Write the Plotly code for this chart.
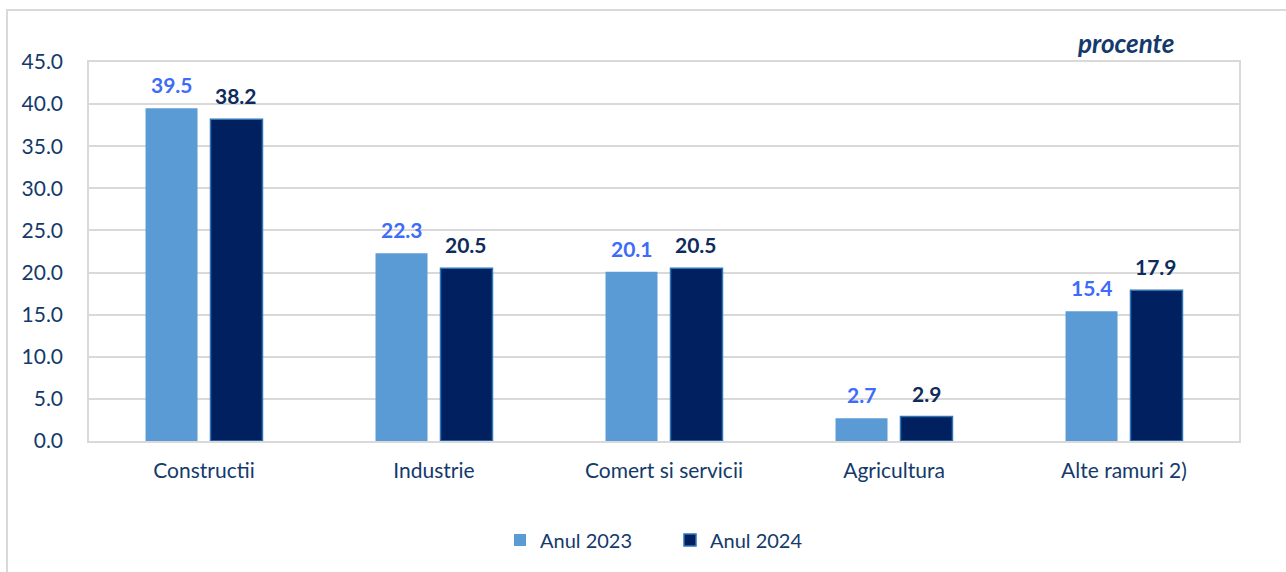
import plotly.graph_objects as go

categories = ["Constructii", "Industrie", "Comert si servicii", "Agricultura", "Alte ramuri 2)"]
values_2023 = [39.5, 22.3, 20.1, 2.7, 15.4]
values_2024 = [38.2, 20.5, 20.5, 2.9, 17.9]
series_names = ["Anul 2023", "Anul 2024"]
y_ticks = [0, 5, 10, 15, 20, 25, 30, 35, 40, 45]

FONT = "Lato"
NAVY = "#133a6b"
LABEL_COLORS = ["#3d6bfa", "#0f2b5b"]

L, R, T, B = 89, 47, 62, 131
W, H = 1286, 572
pw, ph = W - L - R, H - T - B
slot_px = pw / len(categories) * (1 - 0.435) / 2

fig = go.Figure()
fig.add_trace(go.Bar(
    x=categories, y=values_2023, name=series_names[0],
    marker=dict(color="#5b9bd5", line=dict(color="#5b9bd5", width=0)),
))
fig.add_trace(go.Bar(
    x=categories, y=values_2024, name=series_names[1],
    marker=dict(color="#002060", line=dict(color="#2e75b6", width=1.5)),
))

annotations = []
for si, vals in enumerate([values_2023, values_2024]):
    shift = (-0.5 if si == 0 else 0.5) * slot_px
    for c, v in zip(categories, vals):
        annotations.append(dict(
            x=c, y=v, xref="x", yref="y", text=f"<b>{v:.1f}</b>", showarrow=False,
            xshift=shift, yshift=9, yanchor="bottom", xanchor="center",
            font=dict(family=FONT, size=21, color=LABEL_COLORS[si])))

annotations.append(dict(text="<b><i>procente</i></b>", x=(1125 - L) / pw, y=1 + (T - 43) / ph,
                        xref="paper", yref="paper", showarrow=False,
                        font=dict(family=FONT, size=26, color=NAVY), xanchor="center", yanchor="middle"))

fig.update_layout(
    width=W, height=H,
    margin=dict(l=L, r=R, t=T, b=B),
    paper_bgcolor="white", plot_bgcolor="white",
    barmode="group", bargap=0.435, bargroupgap=0.2,
    font=dict(family=FONT, color=NAVY),
    showlegend=True,
    legend=dict(orientation="h", x=(670 - L) / pw, xanchor="center", y=(ph - (540 - T)) / ph,
                yanchor="middle", font=dict(family=FONT, size=20, color=NAVY),
                entrywidth=125, itemwidth=30, bgcolor="rgba(0,0,0,0)"),
    annotations=annotations,
    shapes=[dict(type="rect", xref="paper", yref="paper",
                 x0=(7 - L) / pw, x1=(W + 20 - L) / pw, y0=-(H + 20 - T - ph) / ph - 0.2, y1=1 + (T - 10) / ph,
                 line=dict(color="#d9d9d9", width=2), fillcolor="rgba(0,0,0,0)", layer="below")],
)
fig.update_yaxes(range=[0, 45], tickvals=y_ticks, ticktext=[f"{v:.1f}" for v in y_ticks],
                 tickfont=dict(family=FONT, size=21, color=NAVY),
                 showgrid=True, gridcolor="#d9d9d9", gridwidth=1.5,
                 showline=True, linecolor="#d9d9d9", linewidth=1.5, mirror=True,
                 zeroline=False, ticks="", ticklen=0, ticklabelstandoff=20)
fig.update_xaxes(tickfont=dict(family=FONT, size=21, color=NAVY),
                 showline=True, linecolor="#d9d9d9", linewidth=1.5, mirror=True,
                 ticks="", ticklabelstandoff=10)

fig.write_html("out.html")
